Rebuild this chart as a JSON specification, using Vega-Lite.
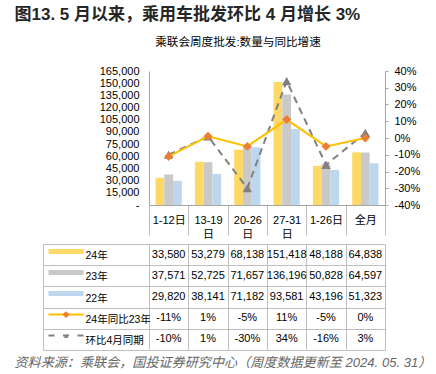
{
  "$schema": "https://vega.github.io/schema/vega-lite/v6.json",
  "padding": {"left": 14, "top": 6, "right": 5, "bottom": 2},
  "background": "white",
  "config": {
    "font": "'Liberation Sans', 'Noto Sans CJK SC', sans-serif",
    "view": {"stroke": null},
    "axis": {"labelColor": "#000", "labelFontSize": 11, "labelOverlap": false, "labelFlush": false},
    "locale": {"number": {"decimal": ".", "thousands": ",", "grouping": [3], "currency": ["$", ""], "minus": "-"}}
  },
  "title": {"text": "图13. 5 月以来，乘用车批发环比 4 月增长 3%", "anchor": "start", "fontSize": 17, "fontWeight": "bold", "color": "#262626", "offset": 13},
  "datasets": {
    "d": [
      {"cat": "1-12日", "series": "24年", "value": 33580},
      {"cat": "13-19日", "series": "24年", "value": 53279},
      {"cat": "20-26日", "series": "24年", "value": 68138},
      {"cat": "27-31日", "series": "24年", "value": 151418},
      {"cat": "1-26日", "series": "24年", "value": 48188},
      {"cat": "全月", "series": "24年", "value": 64838},
      {"cat": "1-12日", "series": "23年", "value": 37571},
      {"cat": "13-19日", "series": "23年", "value": 52725},
      {"cat": "20-26日", "series": "23年", "value": 71657},
      {"cat": "27-31日", "series": "23年", "value": 136196},
      {"cat": "1-26日", "series": "23年", "value": 50828},
      {"cat": "全月", "series": "23年", "value": 64597},
      {"cat": "1-12日", "series": "22年", "value": 29820},
      {"cat": "13-19日", "series": "22年", "value": 38141},
      {"cat": "20-26日", "series": "22年", "value": 71182},
      {"cat": "27-31日", "series": "22年", "value": 93581},
      {"cat": "1-26日", "series": "22年", "value": 43196},
      {"cat": "全月", "series": "22年", "value": 51323},
      {"cat": "1-12日", "series": "24年同比23年", "value": -0.11},
      {"cat": "13-19日", "series": "24年同比23年", "value": 0.01},
      {"cat": "20-26日", "series": "24年同比23年", "value": -0.05},
      {"cat": "27-31日", "series": "24年同比23年", "value": 0.11},
      {"cat": "1-26日", "series": "24年同比23年", "value": -0.05},
      {"cat": "全月", "series": "24年同比23年", "value": 0.0},
      {"cat": "1-12日", "series": "环比4月同期", "value": -0.10},
      {"cat": "13-19日", "series": "环比4月同期", "value": 0.01},
      {"cat": "20-26日", "series": "环比4月同期", "value": -0.30},
      {"cat": "27-31日", "series": "环比4月同期", "value": 0.34},
      {"cat": "1-26日", "series": "环比4月同期", "value": -0.16},
      {"cat": "全月", "series": "环比4月同期", "value": 0.03}
    ]
  },
  "data": {"name": "d"},
  "spacing": 0,
  "vconcat": [
    {
      "width": 236,
      "height": 134,
      "title": {"text": "乘联会周度批发:数量与同比增速", "fontSize": 11.6, "fontWeight": "normal", "color": "#000", "anchor": "middle", "dx": -29, "offset": 16},
      "encoding": {
        "x": {
          "field": "cat", "type": "nominal",
          "sort": ["1-12日", "13-19日", "20-26日", "27-31日", "1-26日", "全月"],
          "scale": {"paddingInner": 0, "paddingOuter": 0},
          "axis": {
            "title": null, "orient": "bottom", "labelAngle": 0,
            "domain": true, "domainColor": "#A6A6A6",
            "ticks": true, "tickBand": "extent", "tickSize": 30, "tickColor": "#BFBFBF",
            "labelPadding": -15, "labelBaseline": "middle", "labelLineHeight": 14, "labelFontSize": 11,
            "labelExpr": "indexof(['13-19日','20-26日','27-31日'], datum.value) >= 0 ? [replace(datum.value, '日', ''), '日'] : datum.value"
          }
        }
      },
      "layer": [
        {
          "transform": [{"filter": {"field": "series", "oneOf": ["24年", "23年", "22年"]}}],
          "mark": {"type": "bar"},
          "encoding": {
            "xOffset": {"field": "series", "type": "nominal", "sort": ["24年", "23年", "22年"], "scale": {"paddingInner": 0, "paddingOuter": 0.75}},
            "y": {
              "field": "value", "type": "quantitative",
              "scale": {"domain": [0, 165000], "nice": false, "zero": true},
              "axis": {
                "title": null, "orient": "left", "grid": false, "ticks": false,
                "domain": true, "domainColor": "#A6A6A6", "labelPadding": 10,
                "values": [0, 15000, 30000, 45000, 60000, 75000, 90000, 105000, 120000, 135000, 150000, 165000],
                "labelExpr": "datum.value == 0 ? '-' : format(datum.value, ',')"
              }
            },
            "color": {
              "field": "series", "type": "nominal",
              "scale": {"domain": ["24年", "23年", "22年"], "range": ["#FFD966", "#C9C9C9", "#BDD7EE"]},
              "legend": null
            }
          }
        },
        {
          "encoding": {
            "y": {
              "field": "value", "type": "quantitative",
              "scale": {"domain": [-0.4, 0.4], "nice": false, "zero": false},
              "axis": {
                "title": null, "orient": "right", "grid": false,
                "ticks": true, "tickSize": 3, "tickColor": "#A6A6A6",
                "domain": true, "domainColor": "#A6A6A6", "labelPadding": 6,
                "values": [-0.4, -0.3, -0.2, -0.1, 0, 0.1, 0.2, 0.3, 0.4],
                "format": ".0%"
              }
            }
          },
          "layer": [
            {
              "transform": [{"filter": "datum.series == '环比4月同期'"}],
              "mark": {"type": "line", "color": "#808080", "strokeWidth": 2, "strokeDash": [7, 5]},
              "encoding": {}
            },
            {
              "transform": [{"filter": "datum.series == '环比4月同期'"}],
              "mark": {"type": "point", "shape": "triangle-up", "filled": true, "color": "#808080", "size": 90, "opacity": 1},
              "encoding": {}
            },
            {
              "transform": [{"filter": "datum.series == '24年同比23年'"}],
              "mark": {"type": "line", "color": "#FFC000", "strokeWidth": 2},
              "encoding": {}
            },
            {
              "transform": [{"filter": "datum.series == '24年同比23年'"}],
              "mark": {"type": "point", "shape": "diamond", "filled": true, "color": "#ED7D31", "size": 80, "opacity": 1},
              "encoding": {}
            }
          ]
        }
      ],
      "resolve": {"scale": {"y": "independent"}}
    },
    {
      "width": 236,
      "height": 106,
      "title": {"text": "资料来源：乘联会，国投证券研究中心（周度数据更新至 2024. 05. 31）", "orient": "bottom", "anchor": "start", "dx": -28, "offset": 6, "fontSize": 13.1, "fontStyle": "italic", "fontWeight": "normal", "color": "#666666"},
      "encoding": {
        "x": {
          "field": "cat", "type": "nominal",
          "sort": ["1-12日", "13-19日", "20-26日", "27-31日", "1-26日", "全月"],
          "scale": {"paddingInner": 0, "paddingOuter": 0},
          "axis": {"title": null, "orient": "top", "labels": false, "ticks": false, "domain": false, "grid": true, "tickBand": "extent", "gridColor": "#BFBFBF"}
        }
      },
      "layer": [
        {
          "transform": [{"filter": {"field": "series", "oneOf": ["24年", "23年", "22年"]}}],
          "mark": {"type": "text", "fontSize": 11, "color": "#000"},
          "encoding": {
            "y": {
              "field": "series", "type": "nominal",
              "scale": {"domain": ["24年", "23年", "22年", "24年同比23年", "环比4月同期"], "paddingInner": 0, "paddingOuter": 0},
              "axis": {
                "title": null, "orient": "left", "domain": false,
                "ticks": true, "tickBand": "extent", "tickSize": 106, "tickColor": "#BFBFBF",
                "grid": true, "gridColor": "#BFBFBF",
                "labelAlign": "left", "labelBaseline": "middle", "labelPadding": -42, "labelFontSize": 10.5, "labelOffset": 1
              }
            },
            "text": {"field": "value", "type": "quantitative", "format": ","}
          }
        },
        {
          "transform": [{"filter": {"field": "series", "oneOf": ["24年同比23年", "环比4月同期"]}}],
          "mark": {"type": "text", "fontSize": 11, "color": "#000"},
          "encoding": {
            "y": {
              "field": "series", "type": "nominal",
              "scale": {"domain": ["24年", "23年", "22年", "24年同比23年", "环比4月同期"], "paddingInner": 0, "paddingOuter": 0},
              "axis": null
            },
            "text": {"field": "value", "type": "quantitative", "format": ".0%"}
          }
        },
        {
          "mark": {"type": "text", "opacity": 0},
          "encoding": {
            "y": {
              "field": "series", "type": "nominal",
              "scale": {"domain": ["24年", "23年", "22年", "24年同比23年", "环比4月同期"], "paddingInner": 0, "paddingOuter": 0},
              "axis": {
                "title": null, "orient": "left", "offset": 66, "domain": false, "grid": false,
                "ticks": true, "tickSize": 35, "tickOffset": -4, "tickCap": "butt",
                "tickColor": {"expr": "datum.value == '24年' ? '#FFD966' : datum.value == '23年' ? '#C9C9C9' : datum.value == '22年' ? '#BDD7EE' : datum.value == '24年同比23年' ? '#FFC000' : '#808080'"},
                "tickWidth": {"expr": "indexof(['24年','23年','22年'], datum.value) >= 0 ? 5 : 2"},
                "tickDash": {"expr": "datum.value == '环比4月同期' ? [6, 8.5] : []"},
                "labelExpr": "datum.value == '24年同比23年' ? '◆' : datum.value == '环比4月同期' ? '▲' : ''",
                "labelColor": {"expr": "datum.value == '24年同比23年' ? '#ED7D31' : '#808080'"},
                "labelAlign": "center", "labelBaseline": "middle", "labelPadding": -17.5, "labelFontSize": 7
              }
            }
          }
        },
        {
          "mark": {"type": "text", "opacity": 0},
          "encoding": {
            "y": {
              "field": "series", "type": "nominal",
              "scale": {"domain": ["24年", "23年", "22年", "24年同比23年", "环比4月同期"], "paddingInner": 0, "paddingOuter": 0},
              "axis": {"title": null, "orient": "left", "offset": 106, "domain": true, "domainColor": "#BFBFBF", "ticks": false, "labels": false, "grid": false}
            }
          }
        }
      ],
      "resolve": {"axis": {"y": "independent"}}
    }
  ]
}
